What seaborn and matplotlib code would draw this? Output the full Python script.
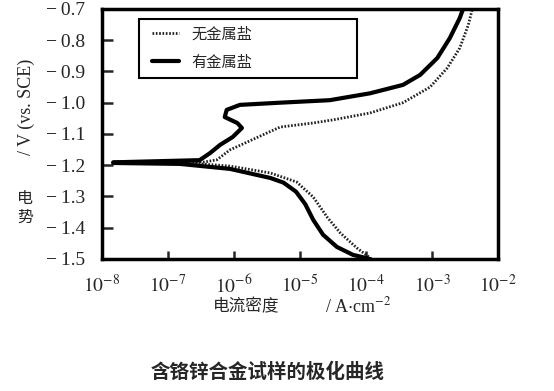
import numpy as np
import pandas as pd
import matplotlib
matplotlib.use("Agg")
import matplotlib.pyplot as plt
from matplotlib.patches import Rectangle
import seaborn as sns

sns.set_theme(style="white")
plt.rcParams['font.family'] = ['Liberation Serif', 'Noto Sans CJK SC']
plt.rcParams['mathtext.fontset'] = 'stix'

# --- data: log10(current density) and potential (V vs. SCE) ---
# without metal salt (dotted)
no_salt_logi = [-3.92, -4.14, -4.39, -4.59, -4.80, -5.05, -5.45, -6.06, -6.56, -7.83,
                -6.45, -6.26, -6.06, -5.80, -5.50, -5.30, -4.80, -4.50, -3.94, -3.44,
                -3.03, -2.77, -2.58, -2.45, -2.39]
no_salt_v = [-1.500, -1.465, -1.417, -1.366, -1.302, -1.254, -1.225, -1.203, -1.195, -1.193,
             -1.190, -1.183, -1.151, -1.126, -1.097, -1.078, -1.065, -1.055, -1.033, -1.000,
             -0.950, -0.889, -0.825, -0.751, -0.700]
# with metal salt (thick solid)
salt_logi = [-3.95, -4.20, -4.44, -4.65, -4.80, -4.92, -5.06, -5.25, -5.45, -6.06, -6.82, -7.83,
             -7.83, -6.52, -6.36, -6.21, -6.02, -5.88, -5.95, -6.14, -6.11, -5.91,
             -5.30, -4.55, -3.94, -3.44, -3.18, -2.92, -2.73, -2.58, -2.53]
salt_v = [-1.500, -1.487, -1.462, -1.423, -1.375, -1.325, -1.285, -1.256, -1.241, -1.212, -1.196, -1.193,
          -1.191, -1.184, -1.161, -1.135, -1.110, -1.081, -1.065, -1.046, -1.023, -1.007,
          -1.000, -0.992, -0.970, -0.943, -0.911, -0.857, -0.793, -0.729, -0.700]

x_ticks = [1e-8, 1e-7, 1e-6, 1e-5, 1e-4, 1e-3, 1e-2]
x_tick_labels = [r'$10^{-8}$', r'$10^{-7}$', r'$10^{-6}$', r'$10^{-5}$',
                 r'$10^{-4}$', r'$10^{-3}$', r'$10^{-2}$']
y_ticks = [-0.7, -0.8, -0.9, -1.0, -1.1, -1.2, -1.3, -1.4, -1.5]

df_no = pd.DataFrame({"i": 10 ** np.array(no_salt_logi), "E": no_salt_v})
df_salt = pd.DataFrame({"i": 10 ** np.array(salt_logi), "E": salt_v})

fig = plt.figure(figsize=(5.54, 3.91), dpi=100)
ax = fig.add_axes([0.184, 0.338, 0.715, 0.639])

sns.lineplot(data=df_no, x="i", y="E", sort=False, estimator=None, ax=ax,
             color="#222222", linewidth=2.0, linestyle=(0, (0.6, 0.6)), label="无金属盐")
sns.lineplot(data=df_salt, x="i", y="E", sort=False, estimator=None, ax=ax,
             color="black", linewidth=3.0, label="有金属盐")

ax.set_xscale("log")
ax.set_xlim(1e-8, 1e-2)
ax.set_ylim(-1.5, -0.7)
ax.set_xticks(x_ticks)
ax.set_xticklabels(x_tick_labels)
ax.minorticks_off()
ax.set_yticks(y_ticks)
ax.set_yticklabels([f"\u2212\u2009{abs(v):.1f}" for v in y_ticks])
ax.tick_params(axis="y", direction="in", length=8, width=1.8, pad=12, labelsize=14, left=True)
ax.tick_params(axis="x", direction="in", length=6, width=1.8, pad=11, labelsize=14, bottom=True)
for s in ax.spines.values():
    s.set_linewidth(2.5)
    s.set_color("black")
ax.set_xlabel("")
ax.set_ylabel("")

# legend box drawn wider than the entries, as in the original
ax.add_patch(Rectangle((0.093, 0.724), 0.551, 0.236, transform=ax.transAxes,
                       facecolor="white", edgecolor="black", linewidth=1.5, zorder=4))
leg = ax.legend(loc="upper left", bbox_to_anchor=(0.126, 0.935), frameon=False,
                prop={'family': 'Noto Sans CJK SC', 'size': 11}, handlelength=1.8,
                handletextpad=0.8, borderpad=0, labelspacing=0.75, borderaxespad=0)
leg.set_zorder(5)

# axis labels
fig.text(26 / 554, 1 - 107 / 391, "/ V (vs. SCE)", rotation=90, ha="center", va="center",
         fontsize=13, family="Liberation Serif")
fig.text(25 / 554, 1 - 208 / 391, "电\n势", ha="center", va="center", fontsize=11.5,
         family="Noto Sans CJK SC", linespacing=1.1)
fig.text(246 / 554, 1 - 307 / 391, "电流密度", ha="center", va="center", fontsize=12,
         family="Noto Sans CJK SC")
fig.text(358 / 554, 1 - 306 / 391, r"/ A$\cdot$cm$^{-2}$", ha="center", va="center",
         fontsize=13, family="Liberation Serif")
fig.text(268 / 554, 1 - 372 / 391, "含铬锌合金试样的极化曲线", ha="center", va="center",
         fontsize=14, family="Noto Sans CJK SC", fontweight="bold")

fig.savefig("out.png", dpi=100, facecolor="white")
